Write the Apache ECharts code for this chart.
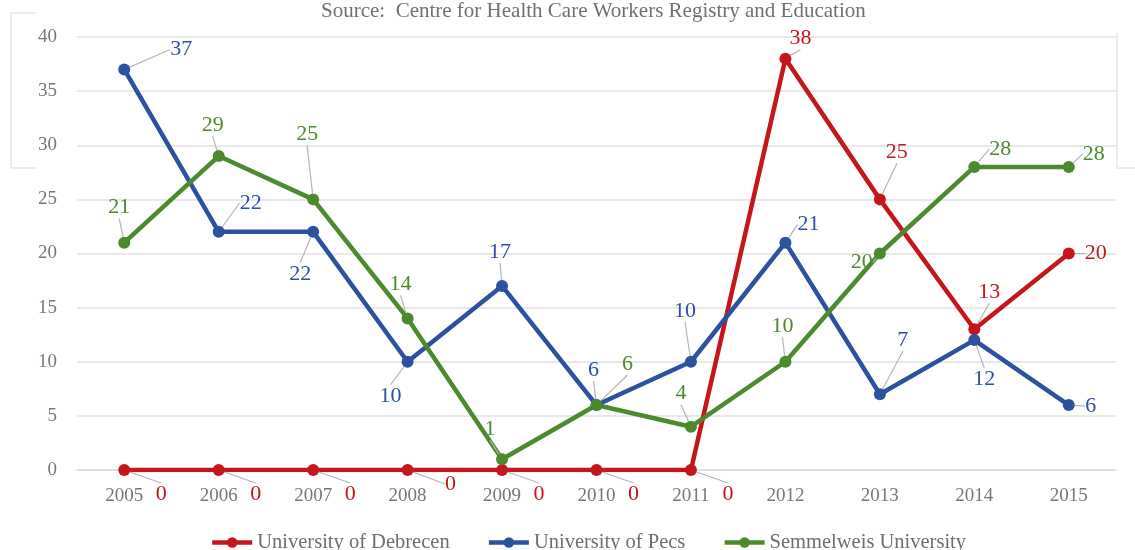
<!DOCTYPE html>
<html>
<head>
<meta charset="utf-8">
<script src="https://cdn.jsdelivr.net/npm/echarts@6/dist/echarts.min.js"></script>
<style>
  html, body { margin: 0; padding: 0; background: #fff; }
  #mChart { width: 1135px; height: 550px; }
</style>
</head>
<body>
<div id="mChart"></div>
<script>
  // data
  var years = ['2005','2006','2007','2008','2009','2010','2011','2012','2013','2014','2015'];
  var debrecen = [0, 0, 0, 0, 0, 0, 0, 38, 25, 13, 20];
  var pecs = [37, 22, 22, 10, 17, 6, 10, 21, 7, 12, 6];
  var semmelweis = [21, 29, 25, 14, 1, 6, 4, 10, 20, 28, 28];
  var yTicks = [0, 40, 5]; // min, max, interval

  // where each value label sits, relative to its point (px)
  var debrecenLabelPos = [[37,24],[37,24],[37,24],[43,14],[37,24],[37,24],[37,24],[15,-20],[17,-47],[15,-37],[27,0]];
  var pecsLabelPos = [[57,-20],[32,-29],[-13,42],[-17,34],[-2,-34],[-3,-35],[-6,-51],[23,-18],[23,-54],[10,39],[22,1]];
  var semmelweisLabelPos = [[-5,-35],[-6,-31],[-6,-65],[-7,-34],[-12,-30],[31,-41],[-10,-33],[-3,-36],[-18,9],[26,-18],[25,-13]];

  var red = '#c4161c', blue = '#2b519f', green = '#4c8a2e';
  var serif = 'Liberation Serif';

  function makeSeries(name, values, color, offsets) {
    return {
      name: name,
      type: 'line',
      data: values,
      symbol: 'circle',
      symbolSize: 12,
      lineStyle: { color: color, width: 4.5 },
      itemStyle: { color: color },
      label: {
        show: true,
        position: 'inside',
        color: color,
        fontFamily: serif,
        fontSize: 22
      },
      labelLine: {
        show: true,
        lineStyle: { color: '#b5b5b5', width: 1.2 }
      },
      labelLayout: function (p) {
        var o = offsets[p.dataIndex];
        return { dx: o[0], dy: o[1] };
      }
    };
  }

  var myChart = echarts.init(document.getElementById('mChart'));
  myChart.setOption({
    animation: false,
    title: {
      text: 'Source:  Centre for Health Care Workers Registry and Education',
      left: 316,
      top: -4,
      textStyle: { color: '#707070', fontFamily: serif, fontWeight: 'normal', fontSize: 21 }
    },
    legend: {
      bottom: -8,
      left: 205,
      itemWidth: 40,
      itemHeight: 13,
      itemGap: 37,
      lineStyle: { width: 4.5 },
      textStyle: { color: '#6e6e6e', fontFamily: serif, fontSize: 20.5 },
      data: ['University of Debrecen', 'University of Pecs', 'Semmelweis University']
    },
    grid: { left: 77, right: 19, top: 37, bottom: 80 },
    xAxis: {
      type: 'category',
      data: years,
      axisLine: { lineStyle: { color: '#dadada', width: 1.5 } },
      axisTick: { show: false },
      axisLabel: { color: '#777', fontFamily: serif, fontSize: 19, margin: 17 }
    },
    yAxis: {
      type: 'value',
      min: yTicks[0],
      max: yTicks[1],
      interval: yTicks[2],
      axisLine: { show: false },
      axisTick: { show: false },
      splitLine: { lineStyle: { color: '#e2e2e2', width: 1.5 } },
      axisLabel: { color: '#777', fontFamily: serif, fontSize: 19, margin: 20 }
    },
    graphic: [
      // faint scan brackets
      { type: 'polyline', silent: true, shape: { points: [[36,13],[11,13],[11,168],[36,168]] }, style: { stroke: '#ececec', lineWidth: 2, fill: null } },
      { type: 'polyline', silent: true, shape: { points: [[1117,33],[1117,168],[1135,168]] }, style: { stroke: '#ececec', lineWidth: 2, fill: null } }
    ],
    series: [
      makeSeries('University of Debrecen', debrecen, red, debrecenLabelPos),
      makeSeries('University of Pecs', pecs, blue, pecsLabelPos),
      makeSeries('Semmelweis University', semmelweis, green, semmelweisLabelPos)
    ]
  });
</script>
</body>
</html>
